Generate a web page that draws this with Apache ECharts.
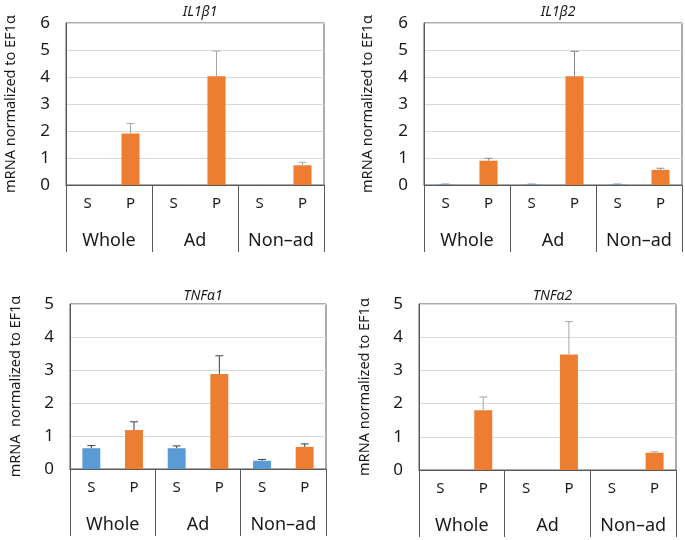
<!DOCTYPE html>
<html>
<head>
<meta charset="utf-8">
<script src="https://cdn.jsdelivr.net/npm/echarts@6/dist/echarts.min.js"></script>
<style>
  html, body { margin: 0; padding: 0; background: #fff; }
  #chart { width: 685px; height: 540px; }
</style>
</head>
<body>
<div id="chart"></div>
<script>
// 数据
var subCats = ['S', 'P', 'S', 'P', 'S', 'P'];
var groups = ['Whole', 'Ad', 'Non–ad'];

var il1b1Mean = [0.005, 1.91, 0.005, 4.03, 0.005, 0.73];
var il1b1Err  = [0, 0.37, 0, 0.93, 0, 0.11];
var il1b2Mean = [0.015, 0.90, 0.015, 4.03, 0.015, 0.56];
var il1b2Err  = [0.02, 0.09, 0.02, 0.92, 0.02, 0.06];
var tnfa1Mean = [0.63, 1.18, 0.63, 2.88, 0.25, 0.67];
var tnfa1Err  = [0.08, 0.25, 0.07, 0.55, 0.04, 0.09];
var tnfa2Mean = [0, 1.80, 0, 3.48, 0, 0.52];
var tnfa2Err  = [0, 0.40, 0, 0.99, 0, 0.03];

var titles = ['IL1β1', 'IL1β2', 'TNFα1', 'TNFα2'];
var yNames = ['mRNA normalized to EF1α', 'mRNA normalized to EF1α', 'mRNA  normalized to EF1α', 'mRNA normalized to EF1α'];
var yMax = [6, 6, 5, 5];

var panels = [
  { mean: il1b1Mean, err: il1b1Err, errColor: '#a6a6a6' },
  { mean: il1b2Mean, err: il1b2Err, errColor: '#8c8c8c' },
  { mean: tnfa1Mean, err: tnfa1Err, errColor: '#404040' },
  { mean: tnfa2Mean, err: tnfa2Err, errColor: '#a6a6a6' }
];

var grids = [
  { left: 66, top: 23, width: 258, height: 162 },
  { left: 424, top: 23, width: 258, height: 162 },
  { left: 70, top: 304, width: 256, height: 165 },
  { left: 419, top: 304, width: 257, height: 166 }
];
var titleTop = [0, 0, 284, 284];
var nameGap = [48, 49, 47, 47];

var fontFam = 'Noto Sans';
var lineCol = '#595959';
var textCol = '#1a1a1a';
var colorS = '#5b9bd5', colorP = '#ed7d31';

var xAxes = [], yAxes = [], series = [], titleOpts = [];

grids.forEach(function (g, i) {
  titleOpts.push({
    text: titles[i],
    left: g.left + g.width / 2,
    top: titleTop[i],
    textAlign: 'center',
    textStyle: { fontFamily: fontFam, fontStyle: 'italic', fontWeight: 'normal', fontSize: 14, color: textCol }
  });
  // 子类别 S/P
  xAxes.push({
    type: 'category', gridIndex: i, data: subCats, position: 'bottom',
    axisLine: { show: true, lineStyle: { color: lineCol } },
    axisTick: { show: false },
    axisLabel: { interval: 0, fontFamily: fontFam, fontSize: 15, color: textCol, margin: 11 },
    splitLine: { show: false }
  });
  // 分组 Whole/Ad/Non-ad
  xAxes.push({
    type: 'category', gridIndex: i, data: groups, position: 'bottom',
    axisLine: { show: false },
    axisTick: { show: true, interval: 0, length: 67, lineStyle: { color: lineCol } },
    axisLabel: { interval: 0, hideOverlap: false, fontFamily: fontFam, fontSize: 18, color: textCol, margin: 47 },
    splitLine: { show: false }
  });
  yAxes.push({
    type: 'value', gridIndex: i, min: 0, max: yMax[i], interval: 1,
    name: yNames[i], nameLocation: 'middle', nameRotate: 90, nameGap: nameGap[i],
    nameTextStyle: { fontFamily: fontFam, fontSize: 14.5, color: textCol },
    axisLine: { show: true, lineStyle: { color: lineCol } },
    axisTick: { show: false },
    axisLabel: { fontFamily: fontFam, fontSize: 17, color: textCol, margin: 16 },
    splitLine: { lineStyle: { color: '#d9d9d9' } }
  });

  var p = panels[i];
  series.push({
    type: 'bar', xAxisIndex: i * 2, yAxisIndex: i, barWidth: '42%',
    data: p.mean.map(function (v, k) {
      return { value: v, itemStyle: { color: subCats[k] === 'S' ? colorS : colorP } };
    })
  });
  series.push({
    type: 'custom', xAxisIndex: i * 2, yAxisIndex: i, z: 3,
    data: p.mean.map(function (v, k) { return [k, v, p.err[k]]; }),
    renderItem: function (params, api) {
      var e = api.value(2);
      if (!e) return;
      var base = api.coord([api.value(0), api.value(1)]);
      var top = api.coord([api.value(0), api.value(1) + e]);
      var st = { stroke: p.errColor, lineWidth: 1 };
      return {
        type: 'group',
        children: [
          { type: 'line', shape: { x1: base[0], y1: base[1], x2: top[0], y2: top[1] }, style: st },
          { type: 'line', shape: { x1: top[0] - 4, y1: top[1], x2: top[0] + 4, y2: top[1] }, style: st }
        ]
      };
    }
  });
});

var chart = echarts.init(document.getElementById('chart'));
chart.setOption({
  animation: false,
  title: titleOpts,
  grid: grids.map(function (g) {
    return { left: g.left, top: g.top, width: g.width, height: g.height, show: true, borderColor: lineCol, borderWidth: 1, containLabel: false };
  }),
  xAxis: xAxes,
  yAxis: yAxes,
  series: series
});
</script>
</body>
</html>
